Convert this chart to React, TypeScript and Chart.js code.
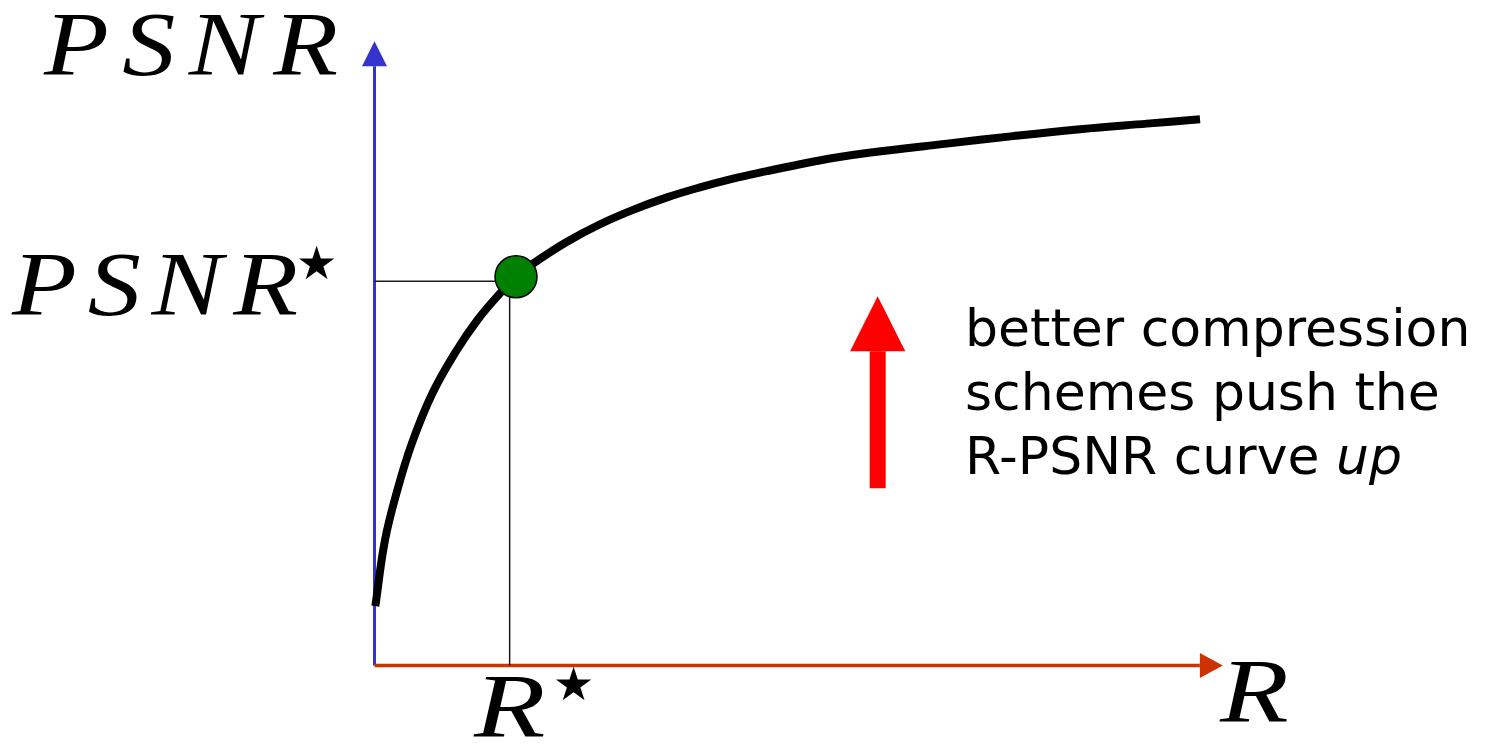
import React, { useEffect, useRef } from "react";
import { Chart, registerables } from "chart.js";
Chart.register(...registerables);

// Rate–PSNR curve
const curveR = [0.1, 1.24, 2.76, 4.41, 6.76, 9.47, 12.18, 15.0, 16.65, 18.65, 22.65, 26.53, 30.41, 34.41, 38.29, 42.18, 46.18, 50.06, 53.94, 57.94, 67.35, 75.12, 83.0, 90.88, 97.12];
const curvePSNR = [9.5, 20.1, 28.4, 35.6, 43.4, 50.0, 55.4, 59.9, 62.2, 64.3, 67.8, 70.6, 72.9, 74.9, 76.5, 77.9, 79.1, 80.2, 81.2, 82.0, 83.5, 84.7, 85.8, 86.7, 87.4];

// operating point (R*, PSNR*)
const pointR = [16.65];
const pointPSNR = [62.2];

// guide lines to the axes
const guideR = [0, 15.9, 15.9];
const guidePSNR = [61.5, 61.5, 0];

// axes (shafts) and arrow tips
const yAxisR = [0, 0];
const yAxisPSNR = [0, 95.9];
const yAxisTip = [0, 99.9];
const xAxisR = [0, 97.1];
const xAxisPSNR = [0, 0];
const xAxisTip = [99.8, 0];

// red "push up" arrow
const pushR = [59.2, 59.2];
const pushPSNR = [28.35, 50.3];
const pushTip = [59.2, 59.1];

const noteLines = ["better compression", "schemes push the", "R-PSNR curve "];
const noteItalic = "up";

const toXY = (xs: number[], ys: number[]) => xs.map((x, i) => ({ x, y: ys[i] }));

const STRETCH = 1.18;

function drawSpaced(ctx: CanvasRenderingContext2D, text: string, left: number, right: number, baseline: number) {
  const chars = text.split("");
  const widths = chars.map((c) => ctx.measureText(c).width * STRETCH);
  const total = widths.reduce((a, b) => a + b, 0);
  const gap = chars.length > 1 ? (right - left - total) / (chars.length - 1) : 0;
  let x = left;
  chars.forEach((c, i) => {
    ctx.save();
    ctx.translate(x, baseline);
    ctx.scale(STRETCH, 1);
    ctx.fillText(c, 0, 0);
    ctx.restore();
    x += widths[i] + gap;
  });
}

function drawStretched(ctx: CanvasRenderingContext2D, text: string, x: number, baseline: number, k = STRETCH) {
  ctx.save();
  ctx.translate(x, baseline);
  ctx.scale(k, 1);
  ctx.fillText(text, 0, 0);
  ctx.restore();
}

const overlayPlugin = {
  id: "overlay",
  afterDatasetsDraw(chart: any) {
    const { ctx, scales } = chart;
    const sx = scales.x;
    const sy = scales.y;
    const px = (v: number) => sx.getPixelForValue(v);
    const py = (v: number) => sy.getPixelForValue(v);

    const head = (bx: number, by: number, tx: number, ty: number, half: number, color: string) => {
      const x0 = px(bx), y0 = py(by), x1 = px(tx), y1 = py(ty);
      const dx = x1 - x0, dy = y1 - y0;
      const len = Math.hypot(dx, dy) || 1;
      const nx = -dy / len, ny = dx / len;
      ctx.save();
      ctx.fillStyle = color;
      ctx.beginPath();
      ctx.moveTo(x1, y1);
      ctx.lineTo(x0 + nx * half, y0 + ny * half);
      ctx.lineTo(x0 - nx * half, y0 - ny * half);
      ctx.closePath();
      ctx.fill();
      ctx.restore();
    };
    head(yAxisR[1], yAxisPSNR[1], yAxisTip[0], yAxisTip[1], 12.5, "#3434cc");
    head(xAxisR[1], xAxisPSNR[1], xAxisTip[0], xAxisTip[1], 12.5, "#cc3300");
    head(pushR[1], pushPSNR[1], pushTip[0], pushTip[1], 27.6, "#ff0000");

    ctx.save();
    ctx.fillStyle = "#000";
    ctx.textBaseline = "alphabetic";
    ctx.textAlign = "left";
    ctx.font = "italic 90px 'Liberation Serif'";
    drawSpaced(ctx, "PSNR", 44, 338, 75);
    drawSpaced(ctx, "PSNR", 12, 298, 315);
    drawStretched(ctx, "R", 474, 737, 1.3);
    drawStretched(ctx, "R", 1220, 722, 1.25);
    ctx.font = "46px 'DejaVu Sans'";
    ctx.fillText("★", 296, 279);
    ctx.fillText("★", 553, 700);

    ctx.font = "52px 'DejaVu Sans'";
    const baselines = [346, 410, 474];
    noteLines.forEach((t, i) => ctx.fillText(t, 965, baselines[i]));
    const w = ctx.measureText(noteLines[2]).width;
    ctx.font = "oblique 52px 'DejaVu Sans'";
    ctx.fillText(noteItalic, 965 + w, baselines[2]);
    ctx.restore();
  },
};

export default function App() {
  const ref = useRef<HTMLCanvasElement | null>(null);
  useEffect(() => {
    if (!ref.current) return;
    const chart = new Chart(ref.current, {
      type: "scatter",
      data: {
        datasets: [
          {
            data: toXY(pointR, pointPSNR),
            showLine: false,
            pointRadius: 21,
            pointBackgroundColor: "#008000",
            pointBorderColor: "#000",
            pointBorderWidth: 1.5,
            order: 0,
            clip: false as any,
          },
          {
            data: toXY(curveR, curvePSNR),
            showLine: true,
            borderColor: "#000",
            borderWidth: 8,
            borderCapStyle: "butt",
            tension: 0.4,
            pointRadius: 0,
            order: 1,
            clip: false as any,
          },
          {
            data: toXY(guideR, guidePSNR),
            showLine: true,
            borderColor: "#1a1a1a",
            borderWidth: 1.5,
            pointRadius: 0,
            order: 2,
            clip: false as any,
          },
          {
            data: toXY(yAxisR, yAxisPSNR),
            showLine: true,
            borderColor: "#3434cc",
            borderWidth: 3,
            borderCapStyle: "butt",
            pointRadius: 0,
            order: 4,
            clip: false as any,
          },
          {
            data: toXY(xAxisR, xAxisPSNR),
            showLine: true,
            borderColor: "#cc3300",
            borderWidth: 3.5,
            borderCapStyle: "butt",
            pointRadius: 0,
            order: 3,
            clip: false as any,
          },
          {
            data: toXY(pushR, pushPSNR),
            showLine: true,
            borderColor: "#ff0000",
            borderWidth: 16,
            borderCapStyle: "butt",
            pointRadius: 0,
            order: 5,
            clip: false as any,
          },
        ],
      },
      options: {
        animation: false,
        responsive: false,
        layout: { padding: { left: 374.5, right: 265.5, top: 40.5, bottom: 79.5 } },
        scales: {
          x: { type: "linear", min: 0, max: 100, display: false },
          y: { type: "linear", min: 0, max: 100, display: false },
        },
        plugins: { legend: { display: false }, tooltip: { enabled: false } },
        events: [],
      },
      plugins: [overlayPlugin],
    });
    return () => chart.destroy();
  }, []);
  return (
    <div style={{ position: "fixed", left: 0, top: 0, width: 1490, height: 745, background: "#fff" }}>
      <canvas ref={ref} width={1490} height={745} style={{ display: "block" }} />
    </div>
  );
}
